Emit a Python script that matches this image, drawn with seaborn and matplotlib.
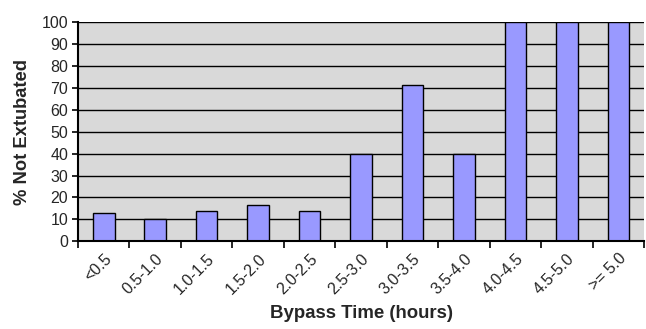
import numpy as np
import pandas as pd
import matplotlib
matplotlib.use("Agg")
import matplotlib.pyplot as plt
import seaborn as sns

categories = ["<0.5", "0.5-1.0", "1.0-1.5", "1.5-2.0", "2.0-2.5", "2.5-3.0",
              "3.0-3.5", "3.5-4.0", "4.0-4.5", "4.5-5.0", ">= 5.0"]
pct_not_extubated = [13.1, 10.3, 13.6, 16.7, 13.6, 40.0, 71.4, 40.0, 100.0, 100.0, 100.0]

df = pd.DataFrame({"bypass": categories, "pct": pct_not_extubated})

sns.set_style("white")
plt.rcParams["font.family"] = ["Liberation Sans", "DejaVu Sans"]

fig = plt.figure(figsize=(6.46, 3.29), dpi=100)
ax = fig.add_axes([0.1207, 0.2666, 0.8763, 0.6664])
ax.set_facecolor("#D9D9D9")

sns.barplot(data=df, x="bypass", y="pct", color="#9999FF", width=0.42,
            edgecolor="black", linewidth=1.0, saturation=1, ax=ax, zorder=3)

ax.set_ylim(0, 100)
ax.set_xlim(-0.5, len(categories) - 0.5)
ax.set_yticks(np.arange(0, 101, 10))
ax.yaxis.grid(True, color="black", linewidth=1.0, zorder=0)
ax.set_axisbelow(True)

# category boundaries get the tick marks, labels sit at centres
ax.set_xticks(np.arange(-0.5, len(categories), 1), minor=True)
ax.tick_params(axis="x", which="major", length=0, labelsize=11.5, pad=7)
ax.tick_params(axis="x", which="minor", length=5, width=1.2, color="black", direction="out", bottom=True)
ax.tick_params(axis="y", length=4, width=1.2, color="black", direction="out", left=True, labelsize=11.5, pad=3)
for lbl in ax.get_xticklabels():
    lbl.set_rotation(45)
    lbl.set_ha("right")
    lbl.set_rotation_mode("anchor")

for side in ["top", "right"]:
    ax.spines[side].set_visible(False)
for side in ["left", "bottom"]:
    ax.spines[side].set_color("black")
    ax.spines[side].set_linewidth(1.5)
    ax.spines[side].set_zorder(4)

ax.set_xlabel("Bypass Time (hours)", fontsize=13.4, fontweight="bold", labelpad=6)
ax.set_ylabel("% Not Extubated", fontsize=13.2, fontweight="bold", labelpad=8)

fig.savefig("out.png", dpi=100)
